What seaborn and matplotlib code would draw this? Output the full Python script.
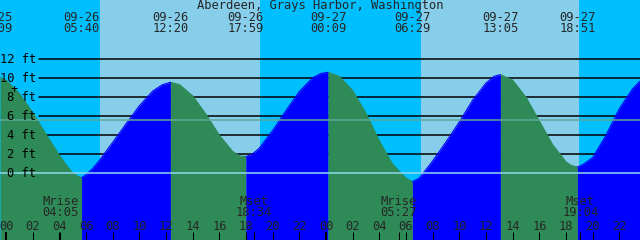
import matplotlib
matplotlib.use("Agg")
import matplotlib.pyplot as plt
import matplotlib.transforms as mtransforms
import pandas as pd
import seaborn as sns

# tide height (hours after 09-26 00:00, feet)
hours = [-0.45, 0, 1, 2, 3, 4, 4.5, 5, 5.35, 5.667,
         6, 6.5, 7, 8, 9, 10, 11, 11.7, 12.333,
         13, 14, 15, 16, 17, 17.5, 17.983,
         18.5, 19, 20, 21, 22, 23, 23.6, 24.15,
         25, 26, 27, 28, 29, 30, 30.483,
         31, 32, 33, 34, 35, 36, 36.6, 37.083,
         38, 39, 40, 41, 42, 42.4, 42.85,
         43.3, 44, 45, 46, 47, 47.55]
feet = [10.08, 9.8, 8.4, 6.4, 4.1, 1.9, 0.9, 0.05, -0.3, -0.46,
        -0.15, 0.5, 1.35, 3.25, 5.2, 7.1, 8.65, 9.3, 9.58,
        9.35, 8.15, 6.2, 4.0, 2.3, 1.85, 1.75,
        2.05, 2.65, 4.5, 6.6, 8.6, 10.05, 10.5, 10.63,
        10.2, 8.7, 6.3, 3.4, 0.95, -0.5, -0.88,
        -0.5, 1.3, 3.3, 5.4, 7.7, 9.5, 10.2, 10.38,
        9.8, 8.0, 5.5, 3.0, 1.2, 0.82, 0.66,
        0.95, 1.65, 4.0, 6.8, 8.9, 9.7]

# high / low tide events
event_hours = [-0.85, 5.667, 12.333, 17.983, 24.15, 30.483, 37.083, 42.85]
event_dates = ["09-25", "09-26", "09-26", "09-26", "09-27", "09-27", "09-27", "09-27"]
event_times = ["23:09", "05:40", "12:20", "17:59", "00:09", "06:29", "13:05", "18:51"]

# moon rise / set
moon_hours = [4.083, 18.567, 29.45, 43.067]
moon_names = ["Mrise", "Mset", "Mrise", "Mset"]
moon_times = ["04:05", "18:34", "05:27", "19:04"]

# daylight (sunrise, sunset)
day_spans = [(7.05, 19.05), (31.1, 42.98)]

levels = [2, 4, 6, 8, 10, 12]
level_labels = ["0 ft", "2 ft", "4 ft", "6 ft", "8 ft", "10 ft", "12 ft"]
mean_level = 5.58

sns.set_style("white")
plt.rcParams['font.family'] = ['DejaVu Sans Mono']

fig = plt.figure(figsize=(6.4, 2.4), dpi=100)
ax = fig.add_axes([0, 0, 1, 1])
ax.set_xlim(-0.45, 47.55)
ax.set_ylim(-7.02, 18.24)
ax.axis("off")
ax.set_facecolor("#00bfff")
ax.add_patch(plt.Rectangle((0, 0), 1, 1, transform=ax.transAxes, color="#00bfff", zorder=0))

for rise, sset in day_spans:
    ax.axvspan(rise, sset, color="#87ceeb", lw=0, zorder=0.5)

def py(ypx):
    return 1 - ypx / 240.0

blend = mtransforms.blended_transform_factory(ax.transData, ax.transAxes)

# grid lines behind the tide
for lv in levels:
    ax.axhline(lv, xmin=39 / 640, xmax=1, color="black", lw=1.1, zorder=1)

# tide fill, green on ebb, blue on flood
df = pd.DataFrame({"hour": hours, "ft": feet})
bounds = [hours[0]] + event_hours[1:] + [hours[-1]]
rows = []
for i in range(len(bounds) - 1):
    seg = df[(df.hour >= bounds[i] - 1e-6) & (df.hour <= bounds[i + 1] + 1e-6)]
    phase = "ebb" if seg.ft.iloc[-1] < seg.ft.iloc[0] else "flood"
    colour = "#2e8b57" if phase == "ebb" else "#0000ff"
    ax.fill_between(seg.hour, -8, seg.ft, color=colour, lw=0, zorder=2)
    rows.append(seg.assign(seg_id=i, phase=phase))
curve = pd.concat(rows)
sns.lineplot(data=curve, x="hour", y="ft", hue="phase", units="seg_id", estimator=None,
             palette={"ebb": "#2e8b57", "flood": "#0000ff"}, lw=0.8, legend=False,
             ax=ax, zorder=2.5)
ax.set_xlim(-0.45, 47.55)
ax.set_ylim(-7.02, 18.24)
ax.axis("off")

# datum and mean lines in front
ax.axhline(0, color="#8fd8f0", lw=1.1, zorder=3)
ax.axhline(mean_level, color="#5fa898", lw=1.1, zorder=3)

fs = 8.7
# y labels
for lv, lab in zip([0] + levels, level_labels):
    ax.text(36 / 640, lv, lab, transform=mtransforms.blended_transform_factory(ax.transAxes, ax.transData),
            ha="right", va="center", fontsize=fs, color="black", zorder=4)
ax.text(14 / 640, py(90), "+", transform=ax.transAxes, ha="center", va="center",
        fontsize=fs, color="black", zorder=4)

# title
ax.text(0.5, py(6), "Aberdeen, Grays Harbor, Washington", transform=ax.transAxes,
        ha="center", va="center", fontsize=fs, zorder=4)

# tide event labels
for h, d, t in zip(event_hours, event_dates, event_times):
    ax.text(h, py(17.5), d, transform=blend, ha="center", va="center", fontsize=fs, zorder=4, clip_on=True)
    ax.text(h, py(29), t, transform=blend, ha="center", va="center", fontsize=fs, zorder=4, clip_on=True)

# moon labels
for h, n, t in zip(moon_hours, moon_names, moon_times):
    ax.text(h, py(201.5), n, transform=blend, ha="center", va="center", fontsize=fs, zorder=4)
    ax.text(h, py(212.5), t, transform=blend, ha="center", va="center", fontsize=fs, zorder=4)
ax.vlines(moon_hours, 0, 8 / 240, transform=blend, color="black", lw=0.75, zorder=4)

# hour axis along the bottom
tick_hours = list(range(0, 49, 2))
for h in tick_hours:
    ax.text(h, py(226), "%02d" % (h % 24), transform=blend, ha="center", va="center",
            fontsize=fs, zorder=4, clip_on=True)
    ax.vlines(h, 0, 8 / 240, transform=blend, color="black",
              lw=1.5 if h % 24 == 0 else 0.75, zorder=4)

fig.savefig("out.png", dpi=100)
